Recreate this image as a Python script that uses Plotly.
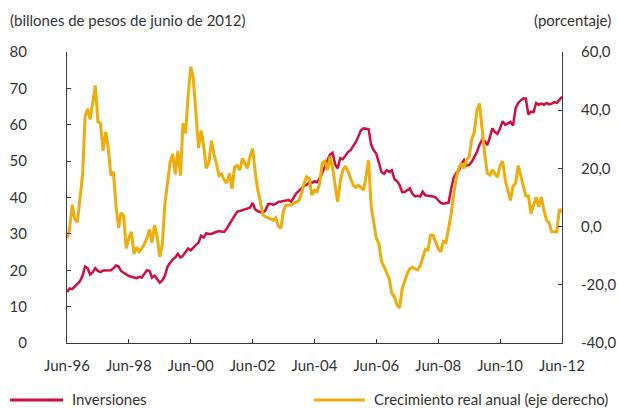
import pandas as pd
import plotly.graph_objects as go

# ---- data (monthly, Jun-1996 .. Jun-2012) ----
start_month = "1996-06-01"

inversiones = [
    14.0, 15.0, 14.8, 15.5, 16.4, 17.0, 18.5, 21.0, 20.5, 18.8,
    19.5, 20.6, 19.8, 19.5, 19.9, 20.0, 19.9, 20.0, 20.5, 21.3,
    21.0, 19.8, 19.3, 18.8, 18.4, 18.2, 18.0, 17.8, 18.2, 18.0,
    19.0, 20.0, 19.8, 18.0, 18.5, 17.5, 16.6, 17.2, 18.5, 21.0,
    22.0, 23.0, 23.5, 24.5, 23.5, 24.0, 25.0, 26.0, 25.5, 26.3,
    27.0, 27.6, 29.5, 29.0, 30.2, 30.0, 30.0, 30.3, 30.5, 30.8,
    30.6, 30.6, 31.5, 32.8, 34.0, 35.0, 36.1, 36.3, 36.5, 36.6,
    37.0, 37.2, 38.5, 36.8, 36.2, 36.0, 35.8, 36.5, 38.2, 38.3,
    38.0, 38.3, 38.8, 38.9, 39.0, 39.0, 39.3, 38.9, 40.0, 41.2,
    41.8, 42.5, 43.2, 43.5, 44.2, 44.0, 44.5, 44.2, 45.3, 46.8,
    48.3, 50.3, 51.8, 52.3, 49.0, 48.0, 50.8, 50.5, 51.5, 52.5,
    53.0, 54.0, 55.2, 56.8, 58.5, 59.0, 59.0, 58.8, 54.5, 53.0,
    52.0, 49.8, 47.0, 46.5, 47.5, 47.0, 47.5, 45.0, 44.5, 43.5,
    41.5, 41.5, 42.0, 42.5, 41.0, 40.3, 40.5, 40.3, 41.6, 40.6,
    40.5, 40.5, 40.3, 40.0, 39.3, 38.5, 38.3, 38.4, 38.6, 42.5,
    45.5, 46.8, 47.5, 49.3, 50.3, 48.8, 48.9, 49.8, 51.0, 52.5,
    54.5, 55.8, 55.5, 54.4, 56.5, 59.0, 58.0, 57.5, 59.0, 61.0,
    60.0, 60.5, 60.8, 59.8, 64.5, 66.0, 66.8, 67.3, 67.2, 62.8,
    63.6, 63.5, 66.0, 65.5, 65.8, 65.5, 66.0, 65.6, 65.8, 66.2,
    66.0, 67.0, 67.7,
]

crecimiento = [
    -4.0, -1.0, 7.5, 2.5, 1.5, 10.0, 17.5, 38.0, 40.5, 36.8,
    42.5, 48.5, 36.0, 35.5, 26.0, 32.5, 27.0, 17.5, 18.8, 6.8,
    -0.5, 4.7, 3.8, -7.5, -4.0, -1.8, -9.4, -7.1, -8.6, -7.5,
    -6.0, -4.0, -1.0, -5.5, 0.5, -3.5, -10.4, -6.0, 8.0, 16.0,
    22.0, 25.0, 18.0, 26.0, 17.5, 35.5, 32.0, 45.0, 55.0, 51.0,
    40.0, 27.0, 33.0, 27.5, 20.0, 22.0, 29.5, 25.0, 21.5, 17.5,
    18.0, 16.0, 15.0, 18.3, 13.0, 20.5, 21.0, 19.4, 23.4, 22.0,
    20.0, 24.0, 26.8, 19.0, 12.5, 8.5, 4.0, 3.4, 3.0, 2.8,
    2.2, 3.0, 0.2, -0.6, 5.5, 7.4, 7.3, 7.4, 8.0, 8.5,
    9.0, 11.5, 15.0, 17.1, 16.5, 10.8, 12.5, 12.0, 14.8, 21.9,
    22.5, 19.4, 24.0, 20.0, 13.5, 8.5, 15.5, 19.4, 20.8, 19.0,
    16.5, 14.2, 13.5, 14.2, 13.5, 12.5, 17.5, 22.8, 7.0, 2.0,
    -4.0, -5.8, -12.0, -13.8, -16.0, -18.0, -23.0, -24.1, -27.0, -28.0,
    -21.5, -19.0, -16.1, -14.5, -14.0, -14.5, -14.9, -13.5, -10.4, -7.8,
    -8.0, -3.0, -3.0, -5.0, -7.5, -8.7, -5.0, -5.5, -1.2, 4.5,
    11.0, 17.0, 20.5, 21.5, 20.0, 23.0, 24.0, 30.0, 32.5, 40.0,
    42.3, 33.0, 25.0, 18.3, 17.7, 19.5, 18.3, 17.0, 21.0, 22.5,
    16.0, 12.0, 9.0, 14.0, 14.8, 21.0, 17.5, 14.0, 10.5, 10.5,
    4.5, 7.4, 10.0, 6.8, 10.2, 5.5, 2.2, 1.3, -1.8, -1.8,
    -1.8, 6.0, 5.0,
]

x_tick_dates = ["1996-06-01", "1998-06-01", "2000-06-01", "2002-06-01", "2004-06-01",
                "2006-06-01", "2008-06-01", "2010-06-01", "2012-06-01"]
x_tick_labels = ["Jun-96", "Jun-98", "Jun-00", "Jun-02", "Jun-04",
                 "Jun-06", "Jun-08", "Jun-10", "Jun-12"]
left_ticks = [0, 10, 20, 30, 40, 50, 60, 70, 80]
right_ticks = [-40, -20, 0, 20, 40, 60]
right_tick_labels = ["-40,0", "-20,0", "0,0", "20,0", "40,0", "60,0"]

series_names = ["Inversiones", "Crecimiento real anual (eje derecho)"]
left_title = "(billones de pesos de junio de 2012)"
right_title = "(porcentaje)"

# ---- styling ----
RED = "#CD1041"
YEL = "#EDAD0C"
AX = "#3a3a3a"
TXT = "#333333"
FONT = "Lato"
FS = 15

dates = pd.date_range(start_month, periods=len(inversiones), freq="MS")

fig = go.Figure()
fig.add_trace(go.Scatter(x=dates, y=inversiones, name=series_names[0], mode="lines",
                         line=dict(color=RED, width=2.5), yaxis="y", showlegend=False))
fig.add_trace(go.Scatter(x=dates, y=crecimiento, name=series_names[1], mode="lines",
                         line=dict(color=YEL, width=3), yaxis="y2", showlegend=False))

W, H = 618, 408
L, R, T, B = 67, 56, 52, 65
pw, ph = W - L - R, H - T - B


def px_x(px):
    return (px - L) / pw


def px_y(py):
    return (H - B - py) / ph


fig.update_layout(
    width=W, height=H, autosize=False,
    margin=dict(l=L, r=R, t=T, b=B, pad=0, autoexpand=False),
    paper_bgcolor="white", plot_bgcolor="white",
    font=dict(family=FONT, size=FS, color=TXT),
    xaxis=dict(type="date", range=[x_tick_dates[0], x_tick_dates[-1]],
               tickvals=x_tick_dates, ticktext=x_tick_labels, automargin=False,
               ticks="inside", ticklen=4, tickcolor=AX, tickwidth=1,
               showline=True, linecolor=AX, linewidth=1, showgrid=False, zeroline=False,
               ticklabelstandoff=9, tickfont=dict(family=FONT, size=FS, color=TXT)),
    yaxis=dict(range=[0, 80], tickvals=left_ticks, automargin=False,
               ticks="inside", ticklen=4, tickcolor=AX, tickwidth=1,
               showline=True, linecolor=AX, linewidth=1, showgrid=False, zeroline=False,
               ticklabelstandoff=36, tickfont=dict(family=FONT, size=FS, color=TXT)),
    yaxis2=dict(range=[-40, 60], tickvals=right_ticks, ticktext=right_tick_labels,
                overlaying="y", side="right", anchor="x", automargin=False,
                ticks="inside", ticklen=4, tickcolor=AX, tickwidth=1,
                showline=True, linecolor=AX, linewidth=1, showgrid=False, zeroline=False,
                ticklabelstandoff=15, tickfont=dict(family=FONT, size=FS, color=TXT)),
)

annotations = [
    dict(text=left_title, x=px_x(8), y=px_y(20), xanchor="left", yanchor="middle"),
    dict(text=right_title, x=px_x(613), y=px_y(20), xanchor="right", yanchor="middle"),
    dict(text=series_names[0], x=px_x(70), y=px_y(399), xanchor="left", yanchor="middle"),
    dict(text=series_names[1], x=px_x(372), y=px_y(399), xanchor="left", yanchor="middle"),
]
for a in annotations:
    a.update(xref="paper", yref="paper", showarrow=False,
             font=dict(family=FONT, size=FS, color=TXT))
fig.update_layout(annotations=annotations)

fig.add_shape(type="line", xref="paper", yref="paper", x0=px_x(10), x1=px_x(63),
              y0=px_y(400), y1=px_y(400), line=dict(color=RED, width=3))
fig.add_shape(type="line", xref="paper", yref="paper", x0=px_x(314), x1=px_x(365),
              y0=px_y(400), y1=px_y(400), line=dict(color=YEL, width=3))

fig.write_html("out.html",
               config={"displayModeBar": False},
               post_script="document.body.style.margin='0px';document.body.style.overflow='hidden';")
